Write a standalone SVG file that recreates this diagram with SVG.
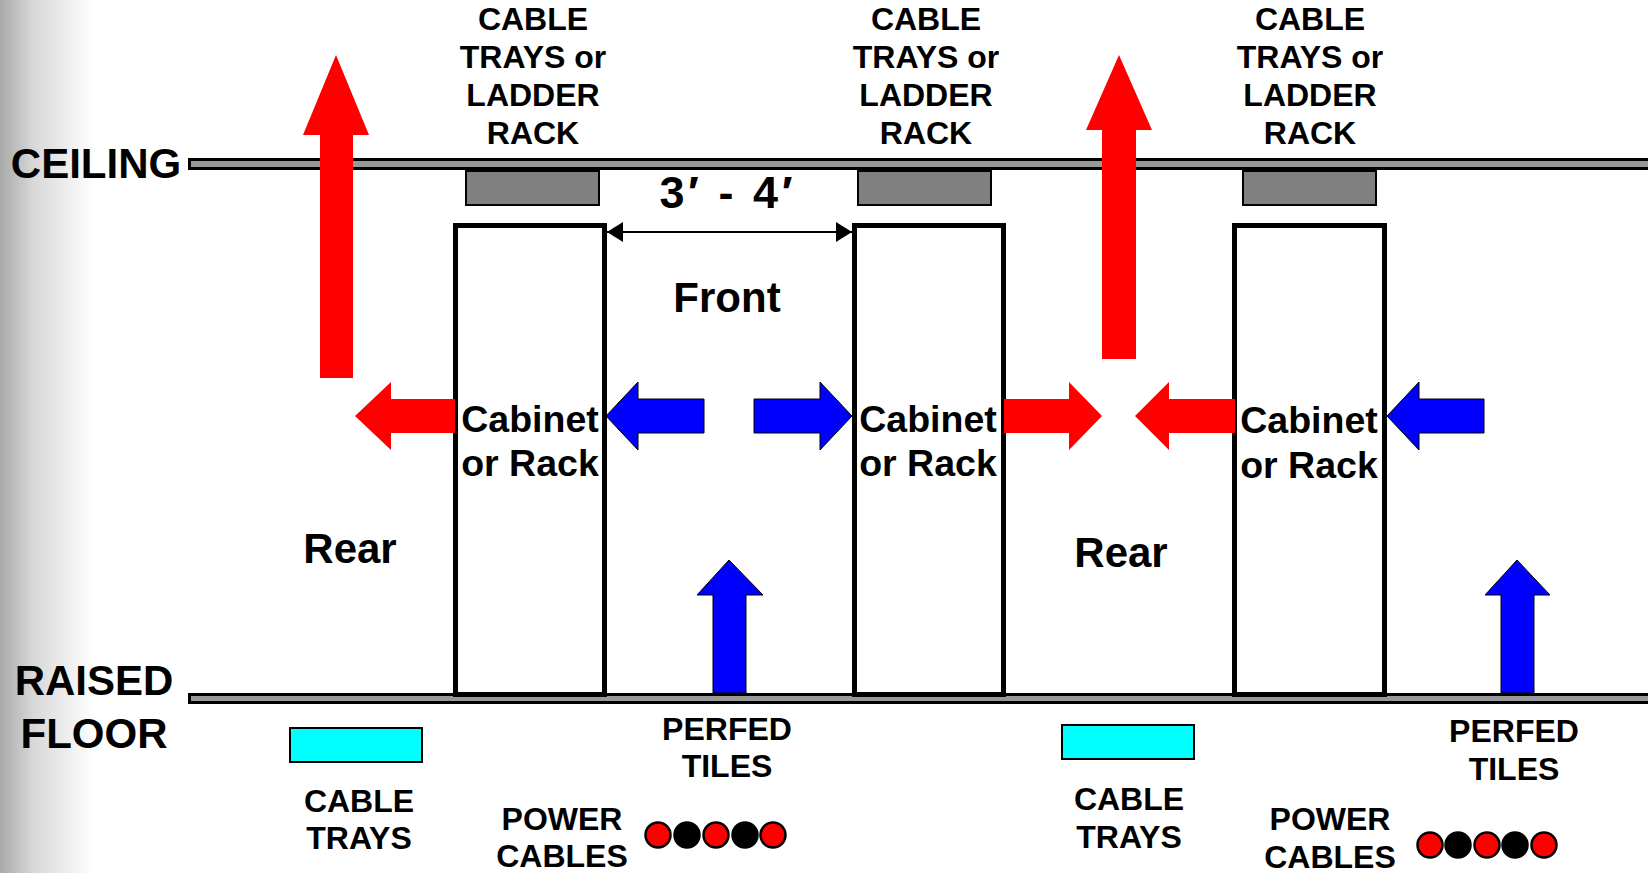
<svg xmlns="http://www.w3.org/2000/svg" width="1648" height="873" viewBox="0 0 1648 873">
<defs>
<linearGradient id="edge" x1="0" y1="0" x2="1" y2="0">
<stop offset="0" stop-color="#a9a9a9"/>
<stop offset="0.35" stop-color="#d8d8d8"/>
<stop offset="1" stop-color="#ffffff"/>
</linearGradient>
<marker id="ah" viewBox="0 0 16 20" refX="16" refY="10" markerWidth="16" markerHeight="20" markerUnits="userSpaceOnUse" orient="auto-start-reverse">
<path d="M0,0 L16,10 L0,20 Z" fill="#000"/>
</marker>
<style>
text{font-family:"Liberation Sans",Arial,sans-serif;font-weight:bold;fill:#000;text-anchor:middle}
.big{font-size:42px}
.dim{font-size:45px}
.lbl{font-size:32px}
.cab{font-size:37.5px}
.bar{fill:#999;stroke:#000;stroke-width:3}
.tray{fill:#808080;stroke:#000;stroke-width:2}
.ftray{fill:#00ffff;stroke:#000;stroke-width:2}
.cabinet{fill:#fff;stroke:#000;stroke-width:5}
.red{fill:#ff0000}
.blue{fill:#0000ff;stroke:#000;stroke-width:1}
.pr{fill:#ff0000;stroke:#000;stroke-width:2.5}
.pb{fill:#000;stroke:#000;stroke-width:2.5}
</style>
</defs>
<rect x="0" y="0" width="1648" height="873" fill="#fff"/>
<rect x="0" y="0" width="95" height="873" fill="url(#edge)"/>

<g id="ceiling">
<rect class="bar" x="189.5" y="159.5" width="1462" height="9"/>
<text class="big" x="96" y="178">CEILING</text>
</g>
<g id="raised-floor">
<rect class="bar" x="189.5" y="694.5" width="1462" height="8"/>
<text class="big" x="94" y="695">RAISED</text>
<text class="big" x="94" y="748">FLOOR</text>
</g>

<g id="tray-top-1">
<rect class="tray" x="466" y="171" width="133" height="34"/>
<text class="lbl" x="533" y="30">CABLE</text>
<text class="lbl" x="533" y="68">TRAYS or</text>
<text class="lbl" x="533" y="106">LADDER</text>
<text class="lbl" x="533" y="144">RACK</text>
</g>
<g id="tray-top-2">
<rect class="tray" x="858" y="171" width="133" height="34"/>
<text class="lbl" x="926" y="30">CABLE</text>
<text class="lbl" x="926" y="68">TRAYS or</text>
<text class="lbl" x="926" y="106">LADDER</text>
<text class="lbl" x="926" y="144">RACK</text>
</g>
<g id="tray-top-3">
<rect class="tray" x="1243" y="171" width="133" height="34"/>
<text class="lbl" x="1310" y="30">CABLE</text>
<text class="lbl" x="1310" y="68">TRAYS or</text>
<text class="lbl" x="1310" y="106">LADDER</text>
<text class="lbl" x="1310" y="144">RACK</text>
</g>

<g id="cabinet-1">
<rect class="cabinet" x="455.5" y="225.5" width="149" height="469"/>
<text class="cab" x="530" y="432">Cabinet</text>
<text class="cab" x="530" y="476">or Rack</text>
</g>
<g id="cabinet-2">
<rect class="cabinet" x="854.5" y="225.5" width="149" height="469"/>
<text class="cab" x="928" y="432">Cabinet</text>
<text class="cab" x="928" y="476">or Rack</text>
</g>
<g id="cabinet-3">
<rect class="cabinet" x="1234.5" y="225.5" width="150" height="469"/>
<text class="cab" x="1309" y="433">Cabinet</text>
<text class="cab" x="1309" y="478">or Rack</text>
</g>

<g id="labels">
<text class="big" x="727" y="312">Front</text>
<text class="big" x="350" y="563">Rear</text>
<text class="big" x="1121" y="567">Rear</text>
<text class="dim" x="726" y="208" textLength="133" lengthAdjust="spacing">3′ - 4′</text>
</g>

<g id="floor-tray-1">
<rect class="ftray" x="290" y="728" width="132" height="34"/>
<text class="lbl" x="359" y="812">CABLE</text>
<text class="lbl" x="359" y="849">TRAYS</text>
</g>
<g id="floor-tray-2">
<rect class="ftray" x="1062" y="725" width="132" height="34"/>
<text class="lbl" x="1129" y="810">CABLE</text>
<text class="lbl" x="1129" y="848">TRAYS</text>
</g>
<g id="perfed-1">
<text class="lbl" x="727" y="740">PERFED</text>
<text class="lbl" x="727" y="777">TILES</text>
</g>
<g id="perfed-2">
<text class="lbl" x="1514" y="742">PERFED</text>
<text class="lbl" x="1514" y="780">TILES</text>
</g>
<g id="power-1">
<text class="lbl" x="562" y="830">POWER</text>
<text class="lbl" x="562" y="867">CABLES</text>
<circle class="pr" cx="658" cy="835" r="12.5"/>
<circle class="pb" cx="687" cy="835" r="12.5"/>
<circle class="pr" cx="716" cy="835" r="12.5"/>
<circle class="pb" cx="745" cy="835" r="12.5"/>
<circle class="pr" cx="773" cy="835" r="12.5"/>
</g>
<g id="power-2">
<text class="lbl" x="1330" y="830">POWER</text>
<text class="lbl" x="1330" y="868">CABLES</text>
<circle class="pr" cx="1430" cy="845" r="12.5"/>
<circle class="pb" cx="1458" cy="845" r="12.5"/>
<circle class="pr" cx="1487" cy="845" r="12.5"/>
<circle class="pb" cx="1515" cy="845" r="12.5"/>
<circle class="pr" cx="1544" cy="845" r="12.5"/>
</g>

<g id="connectors">
<line x1="607" y1="232" x2="852" y2="232" stroke="#000" stroke-width="2" marker-start="url(#ah)" marker-end="url(#ah)"/>
<polygon class="red" points="320,378 320,135 303,135 336,55 369,135 353,135 353,378"/>
<polygon class="red" points="1102,359 1102,130 1086,130 1119,55 1152,130 1136,130 1136,359"/>
<polygon class="red" points="455,399 391,399 391,382 355,416 391,450 391,433 455,433"/>
<polygon class="blue" points="704,399 638,399 638,382 606,416 638,450 638,433 704,433"/>
<polygon class="blue" points="754,399 820,399 820,382 852,416 820,450 820,433 754,433"/>
<polygon class="red" points="1004,399 1069,399 1069,382 1102,416 1069,450 1069,433 1004,433"/>
<polygon class="red" points="1235,399 1169,399 1169,382 1135,416 1169,450 1169,433 1235,433"/>
<polygon class="blue" points="1484,399 1419,399 1419,382 1387,416 1419,450 1419,433 1484,433"/>
<polygon class="blue" points="713,693 713,595 697,595 729,560 763,595 746,595 746,693"/>
<polygon class="blue" points="1501,693 1501,595 1485,595 1517,560 1550,595 1534,595 1534,693"/>
</g>
</svg>
